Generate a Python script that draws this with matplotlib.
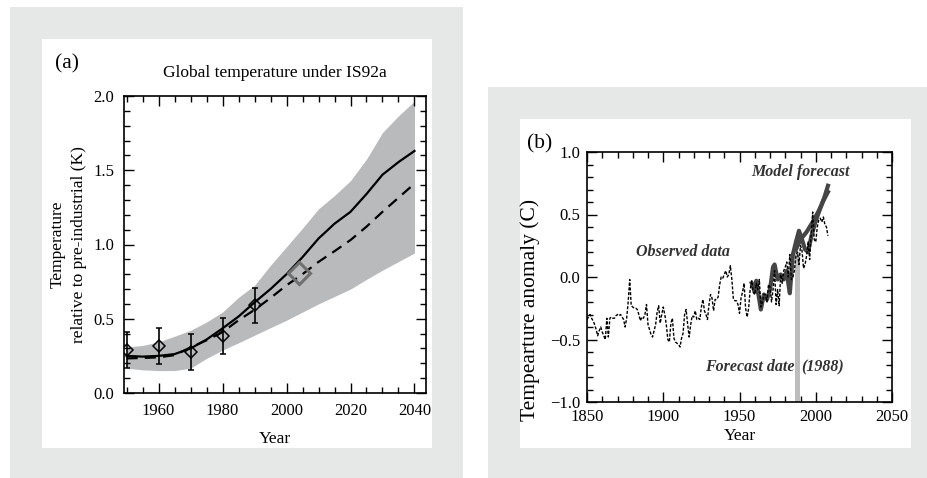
import matplotlib
matplotlib.use("Agg")
import matplotlib.pyplot as plt
from matplotlib.patches import Rectangle
from matplotlib.ticker import MultipleLocator

plt.rcParams['font.family'] = ['Liberation Serif', 'DejaVu Serif']
plt.rcParams['font.size'] = 12

# ---- panel (a): global temperature under IS92a ----
years_a = [1950, 1955, 1960, 1965, 1970, 1975, 1980, 1985, 1990, 1995,
           2000, 2005, 2010, 2015, 2020, 2025, 2030, 2035, 2040]
solid_a = [0.25, 0.245, 0.25, 0.262, 0.30, 0.36, 0.435, 0.515, 0.61, 0.70,
           0.80, 0.915, 1.04, 1.14, 1.22, 1.34, 1.47, 1.555, 1.63]
dashed_a = [0.233, 0.236, 0.24, 0.255, 0.307, 0.355, 0.41, 0.49, 0.56, 0.64,
            0.725, 0.80, 0.883, 0.955, 1.03, 1.12, 1.22, 1.315, 1.41]
band_hi = [0.31, 0.32, 0.344, 0.382, 0.422, 0.478, 0.545, 0.644, 0.725, 0.86,
           0.985, 1.11, 1.24, 1.33, 1.43, 1.575, 1.754, 1.866, 1.966]
band_lo = [0.167, 0.156, 0.151, 0.151, 0.167, 0.233, 0.289, 0.338, 0.389, 0.44,
           0.49, 0.545, 0.60, 0.65, 0.70, 0.765, 0.827, 0.885, 0.943]
obs_years_a = [1950, 1960, 1970, 1980, 1990]
obs_vals_a = [0.29, 0.315, 0.275, 0.385, 0.59]
obs_err_a = [0.12, 0.12, 0.12, 0.12, 0.12]
recent_year_a = [2004]
recent_val_a = [0.81]

# ---- panel (b): observed anomaly and model forecast ----
obs_years_b = list(range(1850, 2009))
obs_vals_b = [-0.34, -0.32, -0.30, -0.33, -0.35, -0.38, -0.42, -0.47, -0.43, -0.40,
              -0.44, -0.47, -0.50, -0.33, -0.48, -0.33, -0.32, -0.33, -0.33, -0.31,
              -0.30, -0.31, -0.30, -0.32, -0.34, -0.40, -0.33, -0.20, -0.02, -0.23,
              -0.24, -0.25, -0.25, -0.26, -0.30, -0.35, -0.32, -0.33, -0.30, -0.22,
              -0.38, -0.42, -0.46, -0.48, -0.43, -0.38, -0.28, -0.23, -0.37, -0.30,
              -0.24, -0.30, -0.38, -0.50, -0.52, -0.37, -0.33, -0.49, -0.52, -0.53,
              -0.54, -0.56, -0.49, -0.45, -0.30, -0.26, -0.38, -0.48, -0.38, -0.31,
              -0.32, -0.27, -0.34, -0.33, -0.34, -0.24, -0.18, -0.27, -0.30, -0.34,
              -0.22, -0.14, -0.17, -0.27, -0.18, -0.18, -0.16, -0.06, 0.00, -0.01,
              0.02, 0.05, 0.00, 0.02, 0.09, -0.02, -0.18, -0.19, -0.19, -0.22,
              -0.29, -0.17, -0.12, -0.05, -0.25, -0.32, -0.25, -0.10, -0.03, -0.12,
              -0.14, -0.05, -0.10, -0.02, -0.24, -0.20, -0.14, -0.14, -0.20, -0.06,
              -0.08, -0.20, -0.10, 0.05, -0.22, -0.10, -0.23, 0.02, -0.05, 0.05,
              0.08, 0.12, 0.00, 0.18, -0.02, 0.00, 0.05, 0.17, 0.20, 0.10,
              0.25, 0.21, 0.07, 0.10, 0.17, 0.28, 0.14, 0.35, 0.52, 0.30,
              0.28, 0.40, 0.46, 0.47, 0.44, 0.48, 0.42, 0.40, 0.33]

model_years_1 = [1958, 1960, 1961, 1964, 1966, 1968, 1970, 1972, 1973, 1975,
                 1977, 1979, 1981, 1982, 1983, 1985, 1987, 1989, 1991, 1993,
                 1995, 1997, 2000, 2003, 2006, 2008]
model_vals_1 = [-0.05, -0.12, -0.03, -0.26, -0.14, -0.18, -0.10, 0.08, 0.10, -0.02,
                0.02, -0.02, 0.05, -0.05, -0.13, 0.18, 0.28, 0.37, 0.30, 0.22,
                0.20, 0.32, 0.45, 0.55, 0.65, 0.73]
model_years_2 = [1987, 1990, 1994, 1998, 2002, 2005, 2008]
model_vals_2 = [0.22, 0.30, 0.36, 0.44, 0.53, 0.61, 0.68]

forecast_year = 1988
forecast_top = 0.2

fig = plt.figure(figsize=(9.28, 4.78), dpi=100)
fig.patch.set_facecolor('white')

# panel backgrounds
boxes = [
    (10 / 928, 0.0, 453 / 928, 471 / 478, '#e6e7e7'),
    (42 / 928, 30 / 478, 390 / 928, 409 / 478, 'white'),
    (488 / 928, 0.0, 440 / 928, 391 / 478, '#e6e7e7'),
    (520 / 928, 30 / 478, 391 / 928, 329 / 478, 'white'),
]
for x0, y0, w, h, c in boxes:
    fig.patches.append(Rectangle((x0, y0), w, h, transform=fig.transFigure,
                                 facecolor=c, edgecolor='none', zorder=-10))


def style_axes(ax):
    ax.set_zorder(5)
    ax.patch.set_alpha(0)
    ax.tick_params(which='both', direction='in', top=True, right=True,
                   labelsize=12, width=1)
    ax.tick_params(which='major', length=7, pad=7)
    ax.tick_params(which='minor', length=4.5)
    for s in ax.spines.values():
        s.set_linewidth(1.2)


# ---------- (a) ----------
axa = fig.add_axes([124 / 928, 85 / 478, 302 / 928, 297 / 478])
axa.fill_between(years_a, band_lo, band_hi, color='#b9babc', linewidth=0)
axa.plot(years_a, solid_a, color='black', lw=1.6)
axa.plot(years_a, dashed_a, color='black', lw=1.6, dashes=(5, 3.2))
axa.errorbar(obs_years_a, obs_vals_a, yerr=obs_err_a, fmt='D', ms=6.5,
             mfc='none', mec='black', mew=1.1, ecolor='black', elinewidth=1.2,
             capsize=2.5, capthick=1.2)
axa.plot(recent_year_a, recent_val_a, 'D', ms=11, mfc='none', mec='#707070', mew=2.2)
axa.set_xlim(1949.2, 2043.6)
axa.set_ylim(0, 2.0)
axa.xaxis.set_major_locator(MultipleLocator(20))
axa.xaxis.set_minor_locator(MultipleLocator(5))
axa.yaxis.set_major_locator(MultipleLocator(0.5))
axa.yaxis.set_minor_locator(MultipleLocator(0.1))
axa.yaxis.set_major_formatter(plt.FormatStrFormatter('%.1f'))
style_axes(axa)
axa.set_xlabel('Year', fontsize=12.5, labelpad=9)
axa.set_ylabel('Temperature\nrelative to pre-industrial (K)', fontsize=12.5,
               linespacing=1.45)
axa.yaxis.set_label_coords(-0.122, 0.5)
axa.set_title('Global temperature under IS92a', fontsize=12.5, pad=14, x=0.5)
fig.text(55 / 928, 1 - 64 / 478, '(a)', fontsize=15.5, va='center', ha='left')

# ---------- (b) ----------
axb = fig.add_axes([587 / 928, 76 / 478, 305 / 928, 250 / 478])
axb.bar([forecast_year], [forecast_top + 1.0], bottom=-1.0, width=3.2,
        color='#bdbdbd', linewidth=0, zorder=1)
axb.plot(obs_years_b, obs_vals_b, color='black', lw=1.0, dashes=(2.2, 1.2), zorder=3)
axb.plot(model_years_1, model_vals_1, color='#454545', lw=3.0, zorder=2,
         solid_joinstyle='round')
axb.plot(model_years_2, model_vals_2, color='#454545', lw=3.0, zorder=2)
axb.set_xlim(1850, 2050)
axb.set_ylim(-1.0, 1.0)
axb.xaxis.set_major_locator(MultipleLocator(50))
axb.xaxis.set_minor_locator(MultipleLocator(10))
axb.yaxis.set_major_locator(MultipleLocator(0.5))
axb.yaxis.set_minor_locator(MultipleLocator(0.1))
axb.yaxis.set_major_formatter(plt.FuncFormatter(
    lambda v, p: ('\u2212%.1f' % abs(v)) if v < 0 else '%.1f' % v))
style_axes(axb)
axb.tick_params(which='major', pad=5)
axb.set_xlabel('Year', fontsize=12.5, labelpad=2)
axb.set_ylabel('Tempearture anomaly (C)', fontsize=15.5)
axb.yaxis.set_label_coords(-0.155, 0.37)

bi = dict(fontsize=11.5, fontweight='bold', fontstyle='italic', color='#333333')
axb.text(1990, 0.84, 'Model forecast', ha='center', va='center', **bi)
axb.text(1913, 0.20, 'Observed data', ha='center', va='center', **bi)
axb.text(1985.8, -0.72, 'Forecast date', ha='right', va='center', **bi)
axb.text(1990.6, -0.72, '(1988)', ha='left', va='center', **bi)
fig.text(527 / 928, 1 - 144 / 478, '(b)', fontsize=15.5, va='center', ha='left')

fig.savefig('out.png', dpi=100, facecolor='white')
